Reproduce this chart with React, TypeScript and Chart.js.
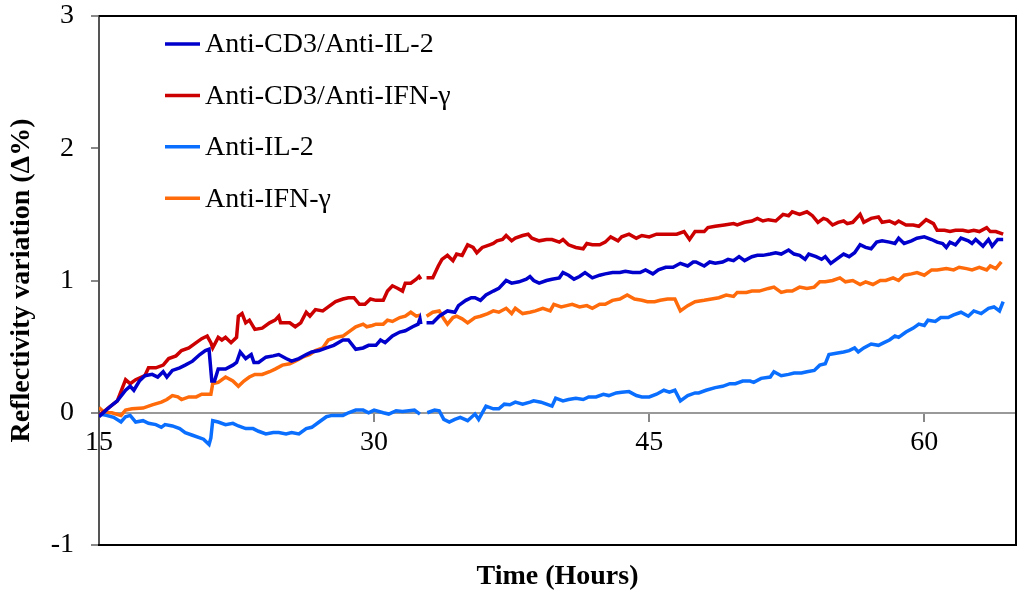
import React, { useEffect, useRef } from "react";
import { Chart, registerables } from "chart.js";

Chart.register(...registerables);

// ---------- data ----------
const xTickValues = [15, 30, 45, 60];
const yTickValues = [-1, 0, 1, 2, 3];

const seriesLabels = [
  "Anti-CD3/Anti-IL-2",
  "Anti-CD3/Anti-IFN-\u03B3",
  "Anti-IL-2",
  "Anti-IFN-\u03B3",
];
const seriesColors = ["#0000CC", "#CC0000", "#0A6EFF", "#FF6A0A"];

const cd3Il2Time = [15, 15.55, 16.0, 16.45, 16.7, 16.9, 17.2, 17.5, 17.9, 18.2, 18.5, 18.7, 19.0, 19.4, 19.7, 20.1, 20.5, 20.8, 21.0, 21.15, 21.3, 21.5, 21.9, 22.3, 22.5, 22.7, 23.0, 23.3, 23.45, 23.7, 24.1, 24.5, 24.8, 25.2, 25.5, 25.9, 26.3, 26.6, 27.0, 27.4, 27.8, 28.3, 28.6, 29.0, 29.4, 29.7, 30.1, 30.35, 30.6, 31.0, 31.4, 31.7, 32.1, 32.4, 32.5, 32.55, 32.7, 32.86, 33.2, 33.55, 34.0, 34.4, 34.6, 35.0, 35.3, 35.5, 35.8, 36.1, 36.5, 36.8, 37.2, 37.5, 37.9, 38.3, 38.5, 38.7, 39.0, 39.4, 39.7, 40.1, 40.3, 40.6, 40.9, 41.2, 41.5, 41.9, 42.3, 42.6, 43.0, 43.4, 43.7, 44.1, 44.5, 44.8, 45.2, 45.5, 45.9, 46.3, 46.7, 47.1, 47.4, 47.55, 48.0, 48.3, 48.6, 49.0, 49.3, 49.6, 49.9, 50.2, 50.6, 50.9, 51.2, 51.6, 51.9, 52.2, 52.6, 52.9, 53.2, 53.5, 53.7, 54.1, 54.4, 54.6, 54.9, 55.2, 55.6, 55.9, 56.2, 56.5, 56.8, 57.1, 57.4, 57.7, 58.1, 58.4, 58.6, 58.9, 59.3, 59.6, 60.0, 60.4, 60.7, 61.0, 61.2, 61.4, 61.7, 62.0, 62.4, 62.6, 62.8, 63.2, 63.5, 63.7, 64.0, 64.3];
const cd3Il2Values = [-0.03, 0.04, 0.09, 0.17, 0.2, 0.17, 0.24, 0.28, 0.29, 0.27, 0.31, 0.27, 0.32, 0.34, 0.36, 0.39, 0.44, 0.47, 0.48, 0.24, 0.24, 0.33, 0.33, 0.36, 0.38, 0.46, 0.41, 0.44, 0.38, 0.38, 0.42, 0.43, 0.44, 0.41, 0.39, 0.41, 0.44, 0.46, 0.47, 0.49, 0.51, 0.55, 0.55, 0.48, 0.49, 0.51, 0.51, 0.55, 0.53, 0.58, 0.61, 0.62, 0.65, 0.67, 0.71, 0.67, null, 0.68, 0.68, 0.73, 0.77, 0.76, 0.81, 0.85, 0.87, 0.87, 0.85, 0.89, 0.92, 0.94, 1.0, 0.98, 0.99, 1.01, 1.03, 1.0, 0.98, 1.0, 1.01, 1.02, 1.06, 1.04, 1.01, 1.03, 1.06, 1.02, 1.04, 1.05, 1.06, 1.06, 1.07, 1.06, 1.06, 1.08, 1.05, 1.08, 1.1, 1.1, 1.13, 1.11, 1.14, 1.14, 1.11, 1.14, 1.13, 1.14, 1.16, 1.15, 1.18, 1.15, 1.18, 1.19, 1.19, 1.2, 1.21, 1.2, 1.23, 1.2, 1.19, 1.16, 1.2, 1.18, 1.16, 1.18, 1.13, 1.16, 1.2, 1.18, 1.21, 1.27, 1.25, 1.24, 1.29, 1.3, 1.29, 1.28, 1.32, 1.28, 1.3, 1.32, 1.33, 1.31, 1.29, 1.28, 1.25, 1.29, 1.27, 1.32, 1.3, 1.28, 1.31, 1.26, 1.31, 1.26, 1.31, 1.31];

const cd3IfnTime = [15, 15.55, 16.0, 16.45, 16.7, 17.0, 17.5, 17.7, 18.1, 18.5, 18.8, 19.2, 19.5, 19.9, 20.3, 20.6, 20.9, 21.1, 21.2, 21.5, 21.7, 21.9, 22.2, 22.5, 22.6, 22.8, 23.0, 23.2, 23.5, 23.9, 24.3, 24.6, 24.8, 24.9, 25.4, 25.7, 26.0, 26.3, 26.5, 26.8, 27.2, 27.5, 27.9, 28.3, 28.6, 28.9, 29.2, 29.5, 29.8, 30.1, 30.5, 30.73, 31.0, 31.3, 31.55, 31.7, 32.0, 32.3, 32.45, 32.55, 32.7, 32.86, 33.2, 33.5, 33.7, 34.0, 34.3, 34.5, 34.8, 35.1, 35.4, 35.6, 35.9, 36.3, 36.5, 36.7, 37.0, 37.2, 37.5, 37.7, 38.1, 38.4, 38.6, 39.0, 39.4, 39.7, 40.1, 40.3, 40.6, 41.0, 41.4, 41.6, 41.9, 42.3, 42.6, 42.9, 43.3, 43.5, 43.9, 44.3, 44.6, 45.0, 45.4, 45.7, 46.1, 46.5, 46.9, 47.2, 47.5, 48.0, 48.2, 48.6, 49.1, 49.6, 49.8, 50.2, 50.6, 50.9, 51.2, 51.5, 51.9, 52.3, 52.6, 52.8, 53.2, 53.6, 53.9, 54.2, 54.5, 54.7, 55.0, 55.3, 55.6, 55.8, 56.1, 56.5, 56.7, 57.1, 57.5, 57.7, 58.1, 58.4, 58.6, 59.0, 59.4, 59.7, 60.1, 60.5, 60.7, 61.1, 61.4, 61.7, 62.1, 62.4, 62.7, 63.0, 63.4, 63.6, 63.9, 64.3];
const cd3IfnValues = [-0.02, 0.04, 0.09, 0.25, 0.22, 0.25, 0.28, 0.34, 0.34, 0.36, 0.41, 0.43, 0.47, 0.49, 0.53, 0.56, 0.58, 0.53, 0.49, 0.57, 0.55, 0.57, 0.53, 0.57, 0.73, 0.75, 0.68, 0.7, 0.63, 0.64, 0.68, 0.7, 0.73, 0.68, 0.68, 0.65, 0.68, 0.76, 0.73, 0.78, 0.77, 0.8, 0.84, 0.86, 0.87, 0.87, 0.82, 0.82, 0.86, 0.85, 0.85, 0.92, 0.96, 0.94, 0.92, 0.98, 0.98, 1.01, 1.03, 1.01, null, 1.02, 1.02, 1.11, 1.16, 1.19, 1.15, 1.2, 1.19, 1.27, 1.25, 1.21, 1.25, 1.27, 1.28, 1.3, 1.31, 1.34, 1.3, 1.32, 1.34, 1.35, 1.32, 1.3, 1.31, 1.31, 1.29, 1.31, 1.27, 1.25, 1.24, 1.28, 1.27, 1.27, 1.29, 1.33, 1.3, 1.33, 1.35, 1.32, 1.34, 1.33, 1.35, 1.35, 1.35, 1.35, 1.37, 1.31, 1.37, 1.37, 1.4, 1.41, 1.42, 1.43, 1.42, 1.44, 1.45, 1.47, 1.45, 1.46, 1.45, 1.5, 1.49, 1.52, 1.5, 1.52, 1.49, 1.44, 1.47, 1.46, 1.42, 1.44, 1.45, 1.43, 1.44, 1.5, 1.44, 1.47, 1.48, 1.44, 1.45, 1.43, 1.45, 1.42, 1.42, 1.41, 1.46, 1.43, 1.38, 1.38, 1.37, 1.38, 1.38, 1.37, 1.38, 1.37, 1.4, 1.37, 1.37, 1.35];

const il2Time = [15, 15.4, 15.8, 16.2, 16.45, 16.7, 17.0, 17.4, 17.7, 18.1, 18.4, 18.6, 19.0, 19.4, 19.7, 20.1, 20.5, 20.7, 21.0, 21.1, 21.2, 21.5, 21.9, 22.3, 22.6, 23.0, 23.4, 23.7, 24.1, 24.5, 24.8, 25.2, 25.5, 25.9, 26.3, 26.6, 27.0, 27.4, 27.7, 28.3, 28.6, 29.0, 29.4, 29.7, 30.0, 30.5, 30.8, 31.2, 31.55, 31.9, 32.2, 32.5, 32.7, 32.9, 33.3, 33.55, 33.8, 34.1, 34.4, 34.7, 35.1, 35.5, 35.7, 36.1, 36.5, 36.8, 37.1, 37.4, 37.7, 38.1, 38.5, 38.7, 39.1, 39.4, 39.7, 39.9, 40.3, 40.6, 41.0, 41.4, 41.7, 42.1, 42.5, 42.8, 43.2, 43.5, 43.9, 44.3, 44.6, 45.0, 45.4, 45.8, 46.1, 46.4, 46.7, 47.1, 47.5, 47.7, 48.1, 48.6, 49.0, 49.4, 49.7, 50.1, 50.5, 50.7, 51.1, 51.6, 51.8, 52.2, 52.6, 52.9, 53.3, 53.6, 54.0, 54.3, 54.6, 54.8, 55.2, 55.6, 55.9, 56.2, 56.4, 56.7, 57.1, 57.5, 57.8, 58.1, 58.4, 58.6, 59.0, 59.4, 59.7, 60.0, 60.2, 60.6, 60.9, 61.3, 61.6, 62.0, 62.4, 62.7, 63.1, 63.5, 63.8, 64.1, 64.3];
const il2Values = [-0.01, -0.02, -0.035, -0.07, -0.03, -0.02, -0.07, -0.06, -0.08, -0.09, -0.11, -0.09, -0.1, -0.12, -0.15, -0.17, -0.19, -0.2, -0.24, -0.19, -0.06, -0.07, -0.09, -0.08, -0.1, -0.12, -0.12, -0.14, -0.16, -0.15, -0.15, -0.16, -0.15, -0.16, -0.12, -0.11, -0.07, -0.03, -0.02, -0.02, 0.0, 0.02, 0.02, 0.0, 0.02, 0.0, -0.01, 0.015, 0.01, 0.015, 0.02, -0.01, null, 0.0, 0.02, 0.015, -0.05, -0.07, -0.05, -0.035, -0.06, -0.01, -0.05, 0.05, 0.03, 0.03, 0.065, 0.06, 0.08, 0.065, 0.08, 0.09, 0.08, 0.065, 0.05, 0.11, 0.09, 0.1, 0.11, 0.1, 0.12, 0.12, 0.14, 0.13, 0.15, 0.155, 0.16, 0.13, 0.12, 0.12, 0.14, 0.17, 0.155, 0.17, 0.09, 0.13, 0.15, 0.15, 0.17, 0.19, 0.2, 0.22, 0.22, 0.24, 0.24, 0.23, 0.26, 0.27, 0.31, 0.28, 0.29, 0.3, 0.3, 0.31, 0.32, 0.36, 0.37, 0.44, 0.45, 0.46, 0.47, 0.49, 0.46, 0.49, 0.52, 0.51, 0.53, 0.55, 0.58, 0.57, 0.61, 0.64, 0.67, 0.66, 0.7, 0.69, 0.72, 0.72, 0.74, 0.76, 0.73, 0.77, 0.75, 0.79, 0.8, 0.77, 0.84];

const ifnTime = [15, 15.3, 15.7, 16.2, 16.45, 16.8, 17.4, 17.9, 18.4, 18.7, 19.0, 19.3, 19.5, 19.9, 20.3, 20.6, 20.9, 21.1, 21.2, 21.5, 21.9, 22.3, 22.6, 22.9, 23.2, 23.5, 23.9, 24.3, 24.6, 25.0, 25.4, 25.7, 26.1, 26.5, 26.8, 27.2, 27.5, 27.9, 28.3, 28.6, 29.0, 29.4, 29.6, 29.9, 30.1, 30.5, 30.73, 31.0, 31.4, 31.7, 32.0, 32.3, 32.55, 32.7, 32.86, 33.2, 33.55, 33.8, 34.0, 34.3, 34.5, 34.8, 35.1, 35.5, 35.8, 36.2, 36.5, 36.8, 37.2, 37.5, 37.7, 38.1, 38.5, 38.8, 39.2, 39.6, 39.8, 40.2, 40.5, 40.8, 41.2, 41.6, 41.9, 42.3, 42.6, 43.0, 43.4, 43.8, 44.2, 44.6, 44.9, 45.3, 45.6, 46.0, 46.4, 46.7, 47.1, 47.5, 48.0, 48.4, 48.8, 49.2, 49.6, 49.8, 50.3, 50.6, 51.0, 51.5, 51.8, 52.2, 52.5, 52.8, 53.2, 53.6, 54.0, 54.3, 54.6, 55.0, 55.4, 55.7, 56.1, 56.5, 56.8, 57.2, 57.6, 57.9, 58.3, 58.6, 58.9, 59.3, 59.6, 60.0, 60.4, 60.7, 61.2, 61.6, 61.9, 62.3, 62.6, 63.0, 63.4, 63.6, 63.9, 64.2];
const ifnValues = [0.04, 0.0, 0.0, -0.02, 0.02, 0.03, 0.035, 0.06, 0.08, 0.1, 0.13, 0.12, 0.1, 0.12, 0.12, 0.14, 0.14, 0.14, 0.22, 0.23, 0.27, 0.24, 0.2, 0.24, 0.27, 0.29, 0.29, 0.31, 0.33, 0.36, 0.37, 0.39, 0.42, 0.44, 0.47, 0.49, 0.55, 0.57, 0.58, 0.61, 0.65, 0.67, 0.65, 0.66, 0.67, 0.67, 0.7, 0.69, 0.72, 0.73, 0.76, 0.73, 0.74, null, 0.73, 0.76, 0.77, 0.71, 0.67, 0.72, 0.73, 0.71, 0.68, 0.72, 0.73, 0.75, 0.77, 0.76, 0.79, 0.75, 0.79, 0.75, 0.76, 0.77, 0.79, 0.77, 0.82, 0.8, 0.81, 0.82, 0.8, 0.81, 0.79, 0.82, 0.82, 0.85, 0.86, 0.89, 0.86, 0.85, 0.84, 0.84, 0.85, 0.86, 0.86, 0.77, 0.81, 0.84, 0.85, 0.86, 0.87, 0.89, 0.88, 0.91, 0.91, 0.92, 0.92, 0.94, 0.95, 0.91, 0.92, 0.92, 0.95, 0.94, 0.95, 0.99, 0.99, 1.0, 1.02, 0.99, 1.0, 0.97, 0.99, 0.97, 1.0, 1.0, 1.02, 1.0, 1.04, 1.05, 1.06, 1.04, 1.08, 1.08, 1.09, 1.08, 1.1, 1.09, 1.08, 1.1, 1.08, 1.11, 1.09, 1.14];

const seriesTimes = [cd3Il2Time, cd3IfnTime, il2Time, ifnTime];
const seriesValues = [cd3Il2Values, cd3IfnValues, il2Values, ifnValues];

const xTitle = "Time (Hours)";
const yTitle = "Reflectivity variation (\u0394%)";

const FONT = '"Liberation Serif", "Times New Roman", serif';

const framePlugin = {
  id: "frame",
  afterDraw(chart: any) {
    const { ctx, chartArea } = chart;
    const { left, right, top, bottom } = chartArea;
    ctx.save();
    ctx.strokeStyle = "#000";
    ctx.lineWidth = 2;
    ctx.beginPath();
    ctx.moveTo(left, top);
    ctx.lineTo(right, top);
    ctx.lineTo(right, bottom);
    ctx.lineTo(left - 1, bottom);
    ctx.stroke();
    ctx.restore();
  },
};

const legendPlugin = {
  id: "insideLegend",
  afterDraw(chart: any) {
    const { ctx } = chart;
    ctx.save();
    ctx.font = `28px ${FONT}`;
    ctx.textBaseline = "middle";
    ctx.textAlign = "left";
    chart.data.datasets.forEach((ds: any, i: number) => {
      const y = 44 + i * 51.4;
      ctx.strokeStyle = ds.borderColor;
      ctx.lineWidth = 3.5;
      ctx.beginPath();
      ctx.moveTo(165, y);
      ctx.lineTo(200, y);
      ctx.stroke();
      ctx.fillStyle = "#000";
      ctx.fillText(ds.label, 205, y + 1);
    });
    ctx.restore();
  },
};

export default function App() {
  const canvasRef = useRef<HTMLCanvasElement | null>(null);

  useEffect(() => {
    document.body.style.margin = "0";
    const canvas = canvasRef.current;
    if (!canvas) return;
    const datasets = seriesLabels.map((label, i) => ({
      label,
      data: seriesTimes[i].map((t, j) => ({ x: t, y: seriesValues[i][j] })),
      borderColor: seriesColors[i],
      backgroundColor: seriesColors[i],
      borderWidth: 3.5,
      pointRadius: 0,
      tension: 0,
      spanGaps: false,
      xAxisID: "x",
      yAxisID: "y",
    }));

    const chart = new Chart(canvas, {
      type: "line",
      data: { datasets },
      plugins: [framePlugin, legendPlugin],
      options: {
        animation: false,
        responsive: false,
        maintainAspectRatio: false,
        devicePixelRatio: 1,
        layout: { padding: { top: 16, right: 8, left: 0, bottom: 0 } },
        plugins: {
          legend: { display: false },
          tooltip: { enabled: false },
          title: { display: false },
        },
        scales: {
          x: {
            type: "linear",
            position: "bottom",
            min: 15,
            max: 65,
            ticks: { display: false },
            grid: { display: false },
            border: { display: false },
            title: {
              display: true,
              text: xTitle,
              color: "#000",
              font: { family: FONT, size: 28, weight: "bold" },
              padding: { top: 0, bottom: 6 },
            },
            afterFit(scale: any) {
              scale.height = 55;
            },
          },
          x2: {
            type: "linear",
            axis: "x",
            position: { y: 0 },
            min: 15,
            max: 65,
            afterBuildTicks(scale: any) {
              scale.ticks = xTickValues.map((v) => ({ value: v }));
            },
            ticks: {
              color: "#000",
              font: { family: FONT, size: 28 },
              padding: 5,
              maxRotation: 0,
              autoSkip: false,
            },
            grid: {
              drawOnChartArea: false,
              drawTicks: true,
              tickLength: 8,
              color: "#888",
              lineWidth: 2,
            },
            border: { display: true, color: "#999", width: 2 },
          },
          y: {
            type: "linear",
            position: "left",
            min: -1,
            max: 3,
            afterBuildTicks(scale: any) {
              scale.ticks = yTickValues.map((v) => ({ value: v }));
            },
            ticks: {
              color: "#000",
              font: { family: FONT, size: 28 },
              padding: 17,
            },
            grid: {
              drawOnChartArea: false,
              drawTicks: true,
              tickLength: 8,
              color: "#888",
              lineWidth: 2,
            },
            border: { display: true, color: "#555", width: 2 },
            title: {
              display: true,
              text: yTitle,
              color: "#000",
              font: { family: FONT, size: 28, weight: "bold" },
              padding: { top: 5, bottom: 0 },
            },
            afterFit(scale: any) {
              scale.width = 99;
              scale.paddingTop = 0;
              scale.paddingBottom = 0;
            },
          },
        },
      },
    } as any);
    return () => chart.destroy();
  }, []);

  return (
    <div style={{ width: 1024, height: 600, background: "#fff" }}>
      <canvas ref={canvasRef} width={1024} height={600} style={{ width: 1024, height: 600, display: "block" }} />
    </div>
  );
}
